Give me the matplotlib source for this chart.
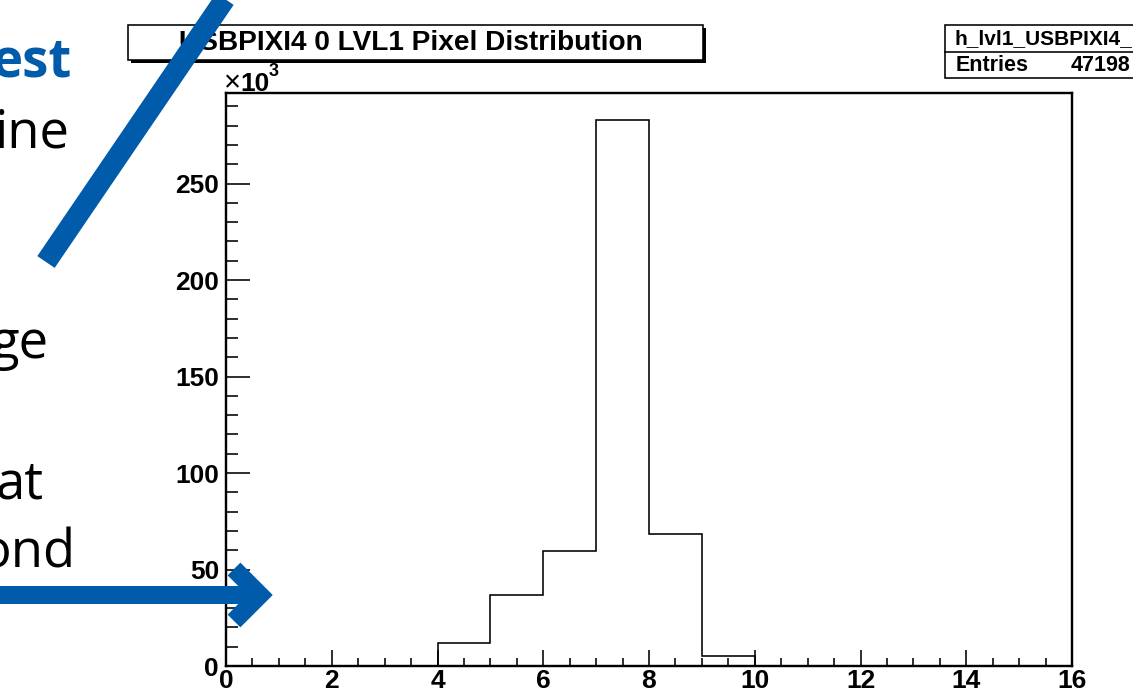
import numpy as np
import matplotlib
matplotlib.use("Agg")
import matplotlib.pyplot as plt
from matplotlib.patches import Rectangle

# LVL1 distribution, counts in units of 10^3 per bin
lvl1_edges = np.arange(0, 17)
lvl1_counts_k = [0, 0, 0, 0, 12.1, 36.8, 59.6, 282.8, 68.2, 5.2, 0, 0, 0, 0, 0, 0]
x_ticks = [0, 2, 4, 6, 8, 10, 12, 14, 16]
y_ticks = [0, 50, 100, 150, 200, 250]

hist_title = "USBPIXI4 0 LVL1 Pixel Distribution"
stats_name = "h_lvl1_USBPIXI4_"
stats_entries = "47198"

# fragments of slide text left of the plot: (text, right x, baseline y, colour, weight)
slide_words = [
    ("est", 72, 76, "#005baa", "bold"),
    ("ine", 70, 147, "black", "normal"),
    ("ge", 48, 358, "black", "normal"),
    ("at", 44, 498, "black", "normal"),
    ("ond", 75, 568, "black", "normal"),
]

BLUE = "#005baa"
W, H = 1133, 694
PX = 0.72  # points per pixel at dpi 100

fig = plt.figure(figsize=(W / 100, H / 100), dpi=100)
fig.patch.set_facecolor("white")

ax = fig.add_axes([226 / W, 1 - 666 / H, (1072 - 226) / W, (666 - 93) / H])
ax.stairs(lvl1_counts_k, lvl1_edges, color="black", lw=1.6 * PX, baseline=0, zorder=3)
# red outline along the bottom and right edge
ax.plot([0, 16, 16], [0.4, 0.4, 296.8], color="#e03030", lw=1.0 * PX, zorder=2, clip_on=False)

ax.set_xlim(0, 16)
ax.set_ylim(0, 296.9)
ax.set_xticks(x_ticks)
ax.set_xticks(np.arange(0, 16.01, 0.5), minor=True)
ax.set_yticks(y_ticks)
ax.set_yticks(np.arange(0, 296, 10), minor=True)
for s in ax.spines.values():
    s.set_linewidth(2.4 * PX)
ax.tick_params(axis="both", which="both", direction="in", width=1.6 * PX,
               top=False, right=False)
ax.tick_params(axis="y", which="major", length=24 * PX, pad=7 * PX)
ax.tick_params(axis="y", which="minor", length=12 * PX)
ax.tick_params(axis="x", which="major", length=16 * PX, pad=3 * PX)
ax.tick_params(axis="x", which="minor", length=8 * PX)
for lab in ax.get_xticklabels() + ax.get_yticklabels():
    lab.set_fontfamily("Liberation Sans")
    lab.set_fontweight("bold")
    lab.set_fontsize(19)

# overlay in pixel coordinates for the boxes, texts and arrows
ov = fig.add_axes([0, 0, 1, 1], zorder=10)
ov.set_xlim(0, W)
ov.set_ylim(H, 0)
ov.axis("off")
ov.patch.set_alpha(0)

# exponent label
ov.text(224, 91, "\u00d7", fontsize=21, family="Liberation Sans", va="baseline", ha="left")
ov.text(240, 91, "10", fontsize=19, family="Liberation Sans", weight="bold", va="baseline")
ov.text(269, 76, "3", fontsize=13, family="Liberation Sans", weight="bold", va="baseline")

# title box with shadow
ov.add_patch(Rectangle((131, 28), 575, 35, facecolor="black", edgecolor="none"))
ov.add_patch(Rectangle((128, 25), 575, 35, facecolor="white", edgecolor="black", lw=1.6 * PX))
ov.text(411, 43, hist_title, fontsize=20.2, family="Liberation Sans", weight="bold",
        ha="center", va="center")

# stats box
ov.add_patch(Rectangle((945, 25), 200, 53, facecolor="white", edgecolor="black", lw=1.6 * PX))
ov.plot([945, 1140], [52, 52], color="black", lw=1.6 * PX)
ov.text(955, 39, stats_name, fontsize=15, family="Liberation Sans", weight="bold",
        ha="left", va="center")
ov.text(956, 65, "Entries", fontsize=15.5, family="Liberation Sans", weight="bold",
        ha="left", va="center")
ov.text(1130, 65, stats_entries, fontsize=15.5, family="Liberation Sans", weight="bold",
        ha="right", va="center")

# slide text fragments
for txt, xr, yb, col, wt in slide_words:
    ov.text(xr, yb, txt, fontsize=38, family="Open Sans", color=col, weight=wt,
            ha="right", va="baseline")

# arrows sit on top of everything else
ov.plot([46, 227], [262, -4], color=BLUE, lw=21 * PX, solid_capstyle="butt", zorder=6)
ov.plot([-5, 256], [595, 595], color=BLUE, lw=18 * PX, solid_capstyle="butt", zorder=6)
ov.plot([234, 260, 234], [569, 595, 621], color=BLUE, lw=18 * PX,
        solid_capstyle="butt", solid_joinstyle="miter", zorder=6)

fig.savefig("out.png", dpi=100)
